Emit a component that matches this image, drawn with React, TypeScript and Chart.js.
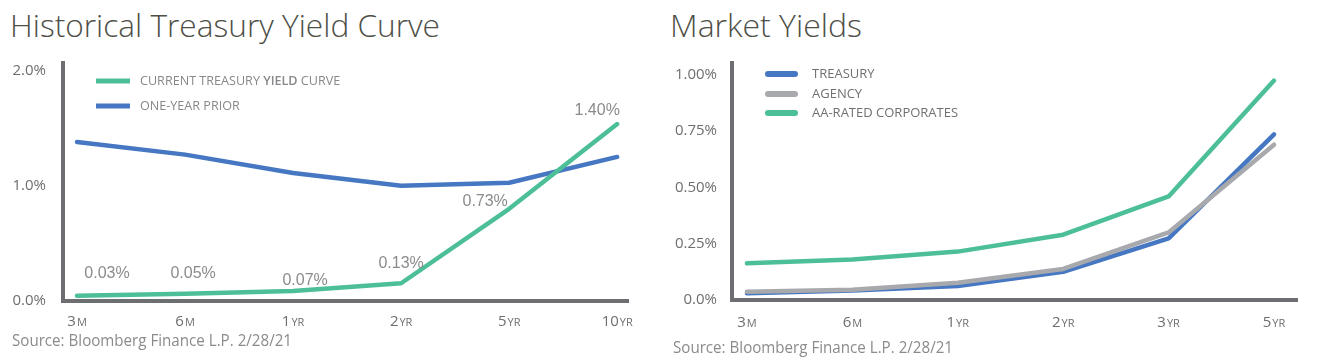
import React, { useEffect, useLayoutEffect, useRef } from "react";
import { Chart, registerables } from "chart.js";

Chart.register(...registerables);

// ---------------- Data ----------------
const leftCategories = ["3M", "6M", "1YR", "2YR", "5YR", "10YR"];
const currentCurve = [0.046, 0.063, 0.087, 0.154, 0.8, 1.535];
const currentCurveLabels = ["0.03%", "0.05%", "0.07%", "0.13%", "0.73%", "1.40%"];
const oneYearPrior = [1.38, 1.27, 1.11, 1.0, 1.026, 1.25];
const leftYTicks = [0, 1, 2];
const leftYTickLabels = ["0.0%", "1.0%", "2.0%"];

const rightCategories = ["3M", "6M", "1YR", "2YR", "3YR", "5YR"];
const treasury = [0.03, 0.042, 0.062, 0.125, 0.274, 0.736];
const agency = [0.037, 0.046, 0.077, 0.138, 0.3, 0.69];
const corporates = [0.163, 0.18, 0.215, 0.29, 0.46, 0.975];
const rightYTicks = [0, 0.25, 0.5, 0.75, 1.0];
const rightYTickLabels = ["0.0%", "0.25%", "0.50%", "0.75%", "1.00%"];

// pixel nudges for the value labels (style only)
const labelNudges = [
  [30, -22],
  [8, -20],
  [12, -10],
  [0, -20],
  [-24, -7],
  [-20, -13],
];

const GREEN = "#4dbf98";
const BLUE = "#4677c2";
const GRAY = "#a7a9ac";
const AXIS = "#6d6e71";
const FONT = "'Open Sans', 'Noto Sans', sans-serif";

const toPoints = (vals: number[]) => vals.map((v, i) => ({ x: i, y: v }));

// ---------------- Plugins ----------------
function xLabelPlugin(labels: string[], offset: number, color: string) {
  return {
    id: "xLabels",
    afterDraw(chart: any) {
      const ctx = chart.ctx;
      const xs = chart.scales.x;
      ctx.save();
      ctx.fillStyle = color;
      ctx.textBaseline = "alphabetic";
      ctx.textAlign = "left";
      const bigF = `15px ${FONT}`;
      const smallF = `11px ${FONT}`;
      labels.forEach((lab, i) => {
        const m = /^(\d+)(.*)$/.exec(lab);
        const big = m ? m[1] : lab;
        const small = m ? m[2] : "";
        ctx.font = bigF;
        const wb = ctx.measureText(big).width;
        ctx.font = smallF;
        const ws = ctx.measureText(small).width;
        const cx = xs.getPixelForValue(i);
        const x = cx - (wb + ws + 1) / 2;
        const y = chart.chartArea.bottom + offset;
        ctx.font = bigF;
        ctx.fillText(big, x, y);
        ctx.font = smallF;
        ctx.fillText(small, x + wb + 1, y);
      });
      ctx.restore();
    },
  };
}

type LegendCfg = {
  dx0: number;
  dx1: number;
  textDx: number;
  rows: number[];
  size: number;
  color: string;
  cap: CanvasLineCap;
  lw: number;
  boldWord?: string;
};

function legendPlugin(cfg: LegendCfg) {
  return {
    id: "customLegend",
    afterDraw(chart: any) {
      const ctx = chart.ctx;
      const area = chart.chartArea;
      ctx.save();
      chart.data.datasets.forEach((ds: any, i: number) => {
        const y = area.top + cfg.rows[i];
        ctx.strokeStyle = ds.borderColor;
        ctx.lineWidth = cfg.lw;
        ctx.lineCap = cfg.cap;
        ctx.beginPath();
        ctx.moveTo(area.left + cfg.dx0, y);
        ctx.lineTo(area.left + cfg.dx1, y);
        ctx.stroke();
        ctx.fillStyle = cfg.color;
        ctx.textBaseline = "middle";
        ctx.textAlign = "left";
        let x = area.left + cfg.textDx;
        const words = String(ds.label).split(" ");
        words.forEach((w: string, wi: number) => {
          const bold = cfg.boldWord && w === cfg.boldWord;
          ctx.font = `${bold ? "600 " : ""}${cfg.size}px ${FONT}`;
          const t = wi < words.length - 1 ? w + " " : w;
          ctx.fillText(t, x, y);
          x += ctx.measureText(t).width;
        });
      });
      ctx.restore();
    },
  };
}

function valueLabelPlugin(labels: string[]) {
  return {
    id: "valueLabels",
    afterDatasetsDraw(chart: any) {
      const ctx = chart.ctx;
      const meta = chart.getDatasetMeta(0);
      ctx.save();
      ctx.font = "16px 'Liberation Sans', Arial, sans-serif";
      ctx.fillStyle = "#8b8b8b";
      ctx.textAlign = "center";
      ctx.textBaseline = "middle";
      meta.data.forEach((pt: any, i: number) => {
        const [dx, dy] = labelNudges[i];
        ctx.fillText(labels[i], pt.x + dx, pt.y + dy);
      });
      ctx.restore();
    },
  };
}

// ---------------- Chart component ----------------
type ChartProps = {
  width: number;
  height: number;
  left: number;
  top: number;
  config: () => any;
};

function ChartCanvas({ width, height, left, top, config }: ChartProps) {
  const ref = useRef<HTMLCanvasElement>(null);
  useEffect(() => {
    if (!ref.current) return;
    const chart = new Chart(ref.current, config());
    return () => chart.destroy();
  }, []);
  return (
    <canvas
      ref={ref}
      width={width}
      height={height}
      style={{ position: "absolute", left, top, width, height, display: "block" }}
    />
  );
}

function FitText({ text, width, style }: { text: string; width: number; style: any }) {
  const ref = useRef<HTMLSpanElement>(null);
  useLayoutEffect(() => {
    const el = ref.current;
    if (!el) return;
    el.style.transform = "none";
    const w = el.getBoundingClientRect().width;
    if (w > 0) el.style.transform = `scaleX(${width / w})`;
  }, [text, width]);
  return (
    <span
      ref={ref}
      style={{
        position: "absolute",
        display: "inline-block",
        whiteSpace: "nowrap",
        transformOrigin: "0 0",
        ...style,
      }}
    >
      {text}
    </span>
  );
}

function baseOptions(opts: {
  xMin: number;
  xMax: number;
  yMax: number;
  yTicks: number[];
  yTickLabels: string[];
  yWidth: number;
  xHeight: number;
  padTop: number;
  padRight: number;
  tickPad: number;
}) {
  return {
    responsive: false,
    animation: false,
    devicePixelRatio: 1,
    layout: { padding: { top: opts.padTop, right: opts.padRight, left: 0, bottom: 0 } },
    plugins: { legend: { display: false }, tooltip: { enabled: false }, title: { display: false } },
    elements: { point: { radius: 0, hoverRadius: 0 }, line: { tension: 0 } },
    scales: {
      x: {
        type: "linear",
        min: opts.xMin,
        max: opts.xMax,
        grid: { display: false, drawTicks: false },
        border: { display: true, color: AXIS, width: 4 },
        ticks: { display: false },
        afterFit: (s: any) => {
          s.height = opts.xHeight;
          s.paddingLeft = 0;
          s.paddingRight = 0;
        },
      },
      y: {
        type: "linear",
        min: 0,
        max: opts.yMax,
        grid: { display: false, drawTicks: false },
        border: { display: true, color: AXIS, width: 4 },
        afterBuildTicks: (s: any) => {
          s.ticks = opts.yTicks.map((v) => ({ value: v }));
        },
        ticks: {
          padding: opts.tickPad,
          color: AXIS,
          font: { family: FONT, size: 15 },
          callback: (_v: any, i: number) => opts.yTickLabels[i],
        },
        afterFit: (s: any) => {
          s.width = opts.yWidth;
          s.paddingTop = 0;
          s.paddingBottom = 0;
        },
      },
    },
  };
}

function leftConfig() {
  return {
    type: "line",
    data: {
      datasets: [
        {
          label: "CURRENT TREASURY YIELD CURVE",
          data: toPoints(currentCurve),
          borderColor: GREEN,
          borderWidth: 4.5,
          borderCapStyle: "round",
          borderJoinStyle: "round",
          order: 0,
        },
        {
          label: "ONE-YEAR PRIOR",
          data: toPoints(oneYearPrior),
          borderColor: BLUE,
          borderWidth: 4.5,
          borderCapStyle: "round",
          borderJoinStyle: "round",
          order: 1,
        },
      ],
    },
    options: baseOptions({
      xMin: -0.13,
      xMax: 5.1,
      yMax: 2.065,
      yTicks: leftYTicks,
      yTickLabels: leftYTickLabels,
      yWidth: 63,
      xHeight: 34,
      padTop: 8,
      padRight: 22,
      tickPad: 17,
    }),
    plugins: [
      xLabelPlugin(leftCategories, 25, AXIS),
      legendPlugin({
        dx0: 33,
        dx1: 67,
        textDx: 77,
        rows: [18, 43],
        size: 12.6,
        color: "#87888b",
        cap: "butt",
        lw: 5,
        boldWord: "YIELD",
      }),
      valueLabelPlugin(currentCurveLabels),
    ],
  };
}

function rightConfig() {
  return {
    type: "line",
    data: {
      datasets: [
        {
          label: "TREASURY",
          data: toPoints(treasury),
          borderColor: BLUE,
          borderWidth: 4.5,
          borderCapStyle: "round",
          borderJoinStyle: "round",
          order: 1,
        },
        {
          label: "AGENCY",
          data: toPoints(agency),
          borderColor: GRAY,
          borderWidth: 4.5,
          borderCapStyle: "round",
          borderJoinStyle: "round",
          order: 0,
        },
        {
          label: "AA-RATED CORPORATES",
          data: toPoints(corporates),
          borderColor: GREEN,
          borderWidth: 4.5,
          borderCapStyle: "round",
          borderJoinStyle: "round",
          order: 2,
        },
      ],
    },
    options: baseOptions({
      xMin: -0.142,
      xMax: 5.218,
      yMax: 1.053,
      yTicks: rightYTicks,
      yTickLabels: rightYTickLabels,
      yWidth: 72,
      xHeight: 55,
      padTop: 8,
      padRight: 29,
      tickPad: 15,
    }),
    plugins: [
      xLabelPlugin(rightCategories, 27, AXIS),
      legendPlugin({
        dx0: 36,
        dx1: 63,
        textDx: 80,
        rows: [11, 31, 50],
        size: 13,
        color: "#6f7073",
        cap: "round",
        lw: 6,
      }),
    ],
  };
}

export default function App() {
  const titleStyle = {
    fontFamily: FONT,
    fontWeight: 300,
    fontSize: 31,
    lineHeight: "31px",
    color: "#4e4f47",
  };
  const sourceStyle = {
    fontFamily: FONT,
    fontSize: 17,
    lineHeight: "17px",
    color: "#8a8b8d",
  };
  return (
    <div style={{ position: "absolute", left: 0, top: 0, width: 1326, height: 358, background: "#fff", overflow: "hidden" }}>
      <FitText text="Historical Treasury Yield Curve" width={430} style={{ ...titleStyle, left: 10, top: 10 }} />
      <FitText text="Market Yields" width={192} style={{ ...titleStyle, left: 670, top: 10 }} />
      <ChartCanvas width={650} height={280} left={0} top={55} config={leftConfig} />
      <ChartCanvas width={666} height={300} left={660} top={55} config={rightConfig} />
      <FitText text="Source: Bloomberg Finance L.P. 2/28/21" width={280} style={{ ...sourceStyle, left: 12, top: 331 }} />
      <FitText text="Source: Bloomberg Finance L.P. 2/28/21" width={280} style={{ ...sourceStyle, left: 673, top: 338 }} />
    </div>
  );
}
